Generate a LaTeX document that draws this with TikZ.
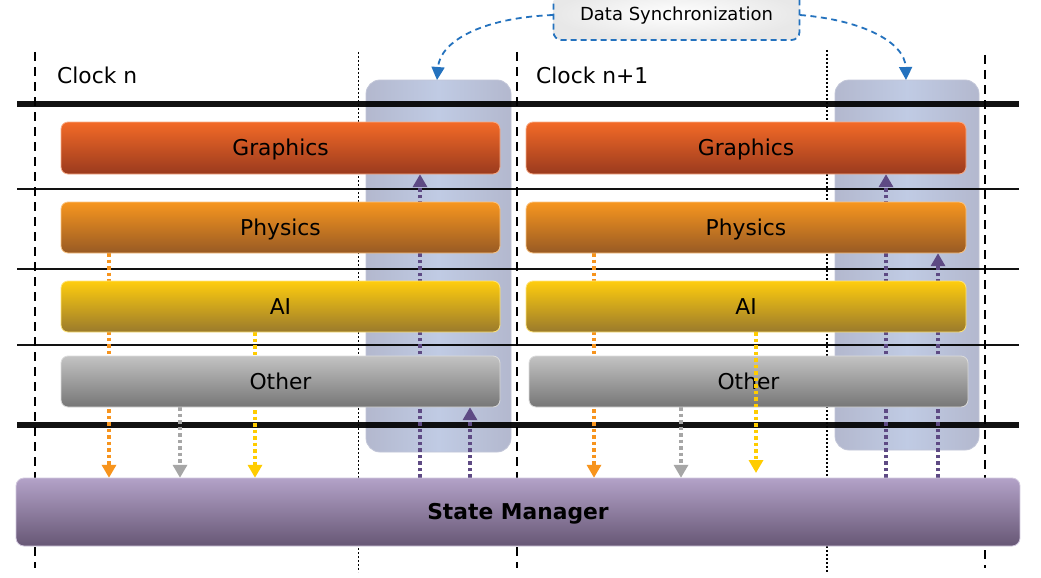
\documentclass[tikz,border=0pt]{standalone}
\usepackage{fontspec}
\setmainfont{DejaVu Sans}
\usetikzlibrary{arrows.meta,calc}
\definecolor{gfxT}{HTML}{F36A27}
\definecolor{gfxB}{HTML}{9A3A1E}
\definecolor{phyT}{HTML}{F7961F}
\definecolor{phyB}{HTML}{985A24}
\definecolor{aiT}{HTML}{FFCD0E}
\definecolor{aiB}{HTML}{9A7A2C}
\definecolor{othT}{HTML}{C3C3C3}
\definecolor{othB}{HTML}{767676}
\definecolor{smT}{HTML}{B3A2C8}
\definecolor{smB}{HTML}{675775}
\definecolor{syncE}{HTML}{B3B8CE}
\definecolor{syncM}{HTML}{C0CBE4}
\definecolor{syncBlue}{HTML}{2472BE}
\definecolor{arrOr}{HTML}{F7941D}
\definecolor{arrGr}{HTML}{A6A6A6}
\definecolor{arrYe}{HTML}{FFCC00}
\definecolor{arrPu}{HTML}{5E4A84}
\newfontfamily\boldfam{DejaVu Sans Bold}
\newcommand{\lblfont}{\fontsize{21.8}{26}\selectfont}
\newcommand{\syncfont}{\fontsize{18}{22}\selectfont}
\newcommand{\smfont}{\boldfam\fontsize{21.8}{26}\selectfont}
\tikzset{
  bar/.style={rounded corners=7pt, inner sep=0pt, font=\lblfont, line width=0.8pt, text height=15.9pt, text depth=0pt},
  gfxbar/.style={bar, top color=gfxT, bottom color=gfxB, draw=gfxT!55!white},
  phybar/.style={bar, top color=phyT, bottom color=phyB, draw=phyT!55!white},
  aibar/.style={bar, top color=aiT, bottom color=aiB, draw=aiT!55!white},
  othbar/.style={bar, top color=othT, bottom color=othB, draw=othT!60!white},
  smbar/.style={rounded corners=8pt, inner sep=0pt, font=\smfont, text height=15.9pt, text depth=0pt, top color=smT, bottom color=smB, draw=smT!60!white, line width=0.8pt},
  syncbox/.style={rounded corners=14pt, inner sep=0pt, left color=syncE, right color=syncE, middle color=syncM, draw=syncE!80!white, line width=0.8pt},
  dsbox/.style={rounded corners=8pt, inner sep=0pt, inner color=white, outer color=black!9, draw=syncBlue, line width=1.8pt, dash pattern=on 6pt off 4pt, font=\syncfont, text height=13.1pt, text depth=0pt},
  vdash/.style={line width=1.8pt, dash pattern=on 9pt off 6pt},
  vdot/.style={line width=1.6pt, dash pattern=on 1.6pt off 2.4pt},
  hthick/.style={line width=6pt, opacity=0.93},
  hthin/.style={line width=2pt, opacity=0.93},
  flow/.style={line width=4pt, dash pattern=on 3.4pt off 3.1pt, -{Triangle[length=13pt,width=14pt]}},
  syncarr/.style={syncBlue, line width=1.8pt, dash pattern=on 6pt off 4.5pt, -{Triangle[length=13pt,width=13pt]}},
  clk/.style={font=\lblfont, anchor=west, inner sep=0pt}
}
\begin{document}
\begin{tikzpicture}[x=1pt,y=-1pt]
\clip (0,0) rectangle (1041,578);
\fill[white] (0,0) rectangle (1041,578);
% vertical lines
\coordinate (v1t) at (35,52);   \coordinate (v1b) at (35,568);
\coordinate (v2t) at (517,52);  \coordinate (v2b) at (517,568);
\coordinate (v3t) at (985,55);  \coordinate (v3b) at (985,568);
\coordinate (d1t) at (358.5,52);  \coordinate (d1b) at (358.5,572);
\coordinate (d2t) at (827,50);  \coordinate (d2b) at (827,572);
\draw[vdash] (v1t) -- (v1b);
\draw[vdash] (v2t) -- (v2b);
\draw[vdash] (v3t) -- (v3b);
\draw[vdot] (d1t) -- (d1b);
\draw[vdot] (d2t) -- (d2b);
% sync boxes
\node[syncbox, minimum width=145, minimum height=372] (sbL) at (438.5,266) {};
\node[syncbox, minimum width=144, minimum height=370] (sbR) at (907,265) {};
% horizontal lines
\coordinate (h1a) at (17,104);  \coordinate (h1b) at (1019,104);
\coordinate (h2a) at (17,189);  \coordinate (h2b) at (1019,189);
\coordinate (h3a) at (17,269);  \coordinate (h3b) at (1019,269);
\coordinate (h4a) at (17,344.5);  \coordinate (h4b) at (1019,344.5);
\coordinate (h5a) at (17,424.5);  \coordinate (h5b) at (1019,424.5);
\draw[hthick] (h1a) -- (h1b);
\draw[hthin] (h2a) -- (h2b);
\draw[hthin] (h3a) -- (h3b);
\draw[hthin] (h4a) -- (h4b);
\draw[hthick] (h5a) -- (h5b);
% state manager outline (names only)
\coordinate (smc) at (518,512);
\path (smc) node[minimum width=1004, minimum height=68, inner sep=0pt] (sm) {};
% bar positions (names only)
\coordinate (gL) at (280.5,148);  \coordinate (gR) at (746,148);
\coordinate (pL) at (280.5,227.5);  \coordinate (pR) at (746,227.5);
\coordinate (aL) at (280.5,306.5);  \coordinate (aR) at (746,306.5);
\coordinate (oL) at (280.5,381.5);  \coordinate (oR) at (748.5,381.5);
\path (gL) node[minimum width=439, minimum height=52, inner sep=0pt] (gfxL) {};
\path (gR) node[minimum width=440, minimum height=52, inner sep=0pt] (gfxR) {};
\path (pL) node[minimum width=439, minimum height=51, inner sep=0pt] (phyL) {};
\path (pR) node[minimum width=440, minimum height=51, inner sep=0pt] (phyR) {};
\path (aL) node[minimum width=439, minimum height=51, inner sep=0pt] (aiL) {};
\path (aR) node[minimum width=440, minimum height=51, inner sep=0pt] (aiR) {};
\path (oL) node[minimum width=439, minimum height=51, inner sep=0pt] (othL) {};
\path (oR) node[minimum width=439, minimum height=51, inner sep=0pt] (othR) {};
% flow arrows (behind bars)
\draw[flow, arrOr] (phyL.south -| 109,0) -- (sm.north -| 109,0);
\draw[flow, arrGr] (othL.south -| 180,0) -- (sm.north -| 180,0);
\draw[flow, arrYe] (aiL.south -| 255,0) -- (sm.north -| 255,0);
\draw[flow, arrPu] (sm.north -| 420,0) -- (gfxL.south -| 420,0);
\draw[flow, arrPu] (sm.north -| 470,0) -- (othL.south -| 470,0);
\draw[flow, arrOr] (phyR.south -| 594,0) -- (sm.north -| 594,0);
\draw[flow, arrGr] (othR.south -| 681,0) -- (sm.north -| 681,0);
\draw[flow, arrPu] (sm.north -| 886,0) -- (gfxR.south -| 886,0);
\draw[flow, arrPu] (sm.north -| 938,0) -- (phyR.south -| 938,0);
% bars
\node[gfxbar, minimum width=439, minimum height=52] (gfxLb) at (gL) {Graphics};
\node[gfxbar, minimum width=440, minimum height=52] (gfxRb) at (gR) {Graphics};
\node[phybar, minimum width=439, minimum height=51] (phyLb) at (pL) {Physics};
\node[phybar, minimum width=440, minimum height=51] (phyRb) at (pR) {Physics};
\node[aibar, minimum width=439, minimum height=51] (aiLb) at (aL) {AI};
\node[aibar, minimum width=440, minimum height=51] (aiRb) at (aR) {AI};
\node[othbar, minimum width=439, minimum height=51] (othLb) at (oL) {Other};
\node[othbar, minimum width=439, minimum height=51] (othRb) at (oR) {Other};
% yellow arrow right column drawn over bar
\coordinate (yeEnd) at (756,473);
\draw[flow, arrYe] (aiR.south -| 756,0) -- (yeEnd);
% state manager
\node[smbar, minimum width=1004, minimum height=68] (smb) at (smc) {State Manager};
% clock labels
\node[clk] (clkn) at (57,75) {Clock n};
\node[clk] (clkn1) at (536,75) {Clock n+1};
% data synchronization
\node[dsbox, minimum width=246, minimum height=52] (ds) at (676.5,14) {Data Synchronization};
\coordinate (dsL) at (553,15);
\coordinate (dsR) at (800,15);
\coordinate (tipL) at (437,80);
\coordinate (tipR) at (906,80);
\draw[syncarr] (dsL) .. controls (480,18) and (440,42) .. (tipL);
\draw[syncarr] (dsR) .. controls (862,20) and (905,42) .. (tipR);
\end{tikzpicture}
\end{document}
